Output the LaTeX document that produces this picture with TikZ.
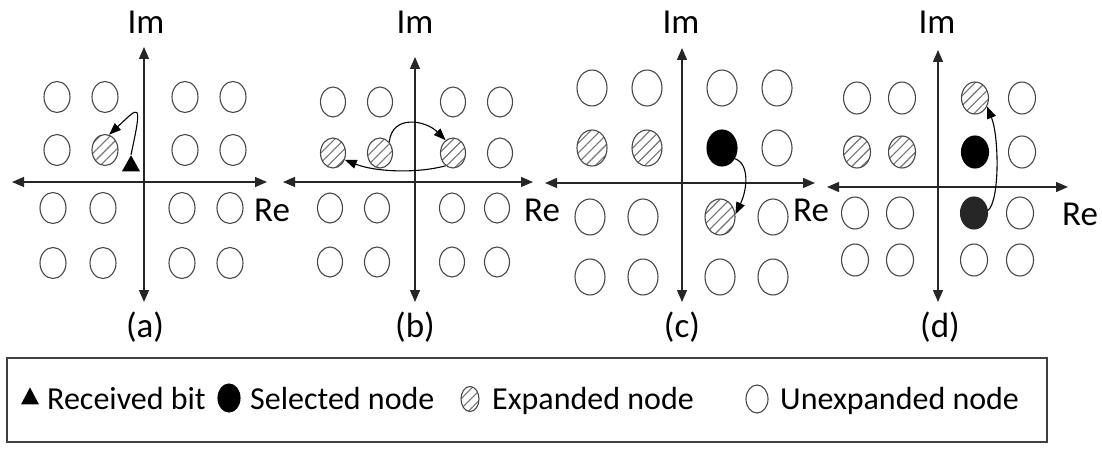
\documentclass[tikz,border=0pt]{standalone}
\usepackage{fontspec}
\setmainfont{Carlito}
\usetikzlibrary{shapes.geometric,arrows.meta,patterns.meta}
\begin{document}
\begin{tikzpicture}[x=1pt,y=-1pt,
  cbase/.style={ellipse,draw=black!72,line width=1.1pt,inner sep=0pt},
  unexp/.style={cbase},
  expd/.style={cbase,pattern={Lines[angle=45,distance=7pt,line width=1.1pt]},pattern color=black!55},
  selc/.style={cbase,fill=black,draw=black},
  dsel/.style={cbase,fill=black!85,draw=black!85},
  szab/.style={minimum width=26pt,minimum height=31pt},
  szc/.style={minimum width=30pt,minimum height=36pt},
  szd/.style={minimum width=27pt,minimum height=32pt},
  tri/.style={isosceles triangle,isosceles triangle stretches,shape border rotate=90,fill=black,inner sep=0pt},
  axisline/.style={line width=1.3pt,draw=black!85,arrows={Triangle[length=12pt,width=10pt]-Triangle[length=12pt,width=10pt]}},
  conn/.style={line width=1.1pt,draw=black,arrows={-Triangle[length=12pt,width=9pt]}},
  lbl/.style={font=\fontsize{35}{40}\selectfont,inner sep=0pt},
  leg/.style={font=\fontsize{32}{38}\selectfont,inner sep=0pt,anchor=base west}
]
\useasboundingbox (0,0) rectangle (1102,454);

% ---------- panel (a)
\coordinate (aT) at (144,47); \coordinate (aB) at (144,302);
\coordinate (aL) at (12,182); \coordinate (aR) at (267,182);
\draw[axisline] (aT) -- (aB);
\draw[axisline] (aL) -- (aR);
\foreach \n/\x/\y/\s in {a11/57/97/unexp,a12/105/97/unexp,a13/185/97/unexp,a14/233/97/unexp,
  a21/57/150/unexp,a22/105/150/expd,a23/185/150/unexp,a24/233/150/unexp,
  a31/53/208/unexp,a32/103/208/unexp,a33/182/208/unexp,a34/230/208/unexp,
  a41/53/263/unexp,a42/103/263/unexp,a43/182/263/unexp,a44/230/263/unexp}
  \node[\s,szab] (\n) at (\x,\y) {};
\node[tri,minimum width=18pt,minimum height=16pt] (atri) at (131,166) {};
\draw[conn] (atri.north) .. controls +(12,-55) and +(30,-28) .. (a22.75);
\node[lbl,anchor=base] (aIm) at (146,34) {Im};
\node[lbl,anchor=base west] (aRe) at (254,222) {Re};
\node[lbl,anchor=base] (acap) at (145,337) {(a)};

% ---------- panel (b)
\coordinate (bT) at (415,57); \coordinate (bB) at (415,302);
\coordinate (bL) at (283,182); \coordinate (bR) at (533,182);
\draw[axisline] (bT) -- (bB);
\draw[axisline] (bL) -- (bR);
\foreach \n/\x/\y/\s in {b11/333/102/unexp,b12/380/102/unexp,b13/453/102/unexp,b14/500/102/unexp,
  b21/333/153/expd,b22/380/153/expd,b23/453/153/expd,b24/500/153/unexp,
  b31/330/208/unexp,b32/377/208/unexp,b33/452/208/unexp,b34/497/208/unexp,
  b41/330/262/unexp,b42/377/262/unexp,b43/452/262/unexp,b44/497/262/unexp}
  \node[\s,minimum width=25pt,minimum height=30pt] (\n) at (\x,\y) {};
\draw[conn] (b22.50) .. controls +(3,-28) and +(-20,-20) .. (b23.120);
\draw[conn] (b23.240) .. controls +(-30,8) and +(30,12) .. (b21.-30);
\node[lbl,anchor=base] (bIm) at (415,34) {Im};
\node[lbl,anchor=base west] (bRe) at (524,222) {Re};
\node[lbl,anchor=base] (bcap) at (415,337) {(b)};

% ---------- panel (c)
\coordinate (cT) at (682,48); \coordinate (cB) at (682,302);
\coordinate (cL) at (545,183); \coordinate (cR) at (815,183);
\draw[axisline] (cT) -- (cB);
\draw[axisline] (cL) -- (cR);
\foreach \n/\x/\y/\s in {c11/592/88/unexp,c12/647/88/unexp,c13/722/88/unexp,c14/777/88/unexp,
  c21/592/148/expd,c22/647/148/expd,c23/722/148/selc,c24/777/148/unexp,
  c31/590/217/unexp,c32/643/217/unexp,c33/720/217/expd,c34/773/217/unexp,
  c41/590/277/unexp,c42/643/277/unexp,c43/720/277/unexp,c44/773/277/unexp}
  \node[\s,szc] (\n) at (\x,\y) {};
\draw[conn] (c23.-40) .. controls +(15,5) and +(12,-25) .. (c33.10);
\node[lbl,anchor=base] (cIm) at (681,34) {Im};
\node[lbl,anchor=base west] (cRe) at (793,222) {Re};
\node[lbl,anchor=base] (ccap) at (682,337) {(c)};

% ---------- panel (d)
\coordinate (dT) at (938,50); \coordinate (dB) at (938,302);
\coordinate (dL) at (827,187); \coordinate (dR) at (1068,187);
\draw[axisline] (dT) -- (dB);
\draw[axisline] (dL) -- (dR);
\foreach \n/\x/\y/\s in {d11/857/98/unexp,d12/902/98/unexp,d13/975/98/expd,d14/1022/98/unexp,
  d21/857/152/expd,d22/902/152/expd,d23/975/152/selc,d24/1022/152/unexp,
  d31/855/213/unexp,d32/900/213/unexp,d33/974/213/dsel,d34/1020/213/unexp,
  d41/855/260/unexp,d42/900/260/unexp,d43/974/260/unexp,d44/1020/260/unexp}
  \node[\s,szd] (\n) at (\x,\y) {};
\draw[conn] (d33.10) .. controls +(12,-10) and +(12,30) .. (d13.-35);
\node[lbl,anchor=base] (dIm) at (937,34) {Im};
\node[lbl,anchor=base west] (dRe) at (1062,226) {Re};
\node[lbl,anchor=base] (dcap) at (940,337) {(d)};

% ---------- legend
\node[draw=black!75,line width=1.1pt,minimum width=1040pt,minimum height=84pt,inner sep=0pt] (legbox) at (527,400) {};
\node[tri,minimum width=18pt,minimum height=17pt] (ltri) at (30,399) {};
\node[leg] (ltxt1) at (47,409) {Received bit};
\node[selc,minimum width=22pt,minimum height=28pt] (lsel) at (229,398) {};
\node[leg] (ltxt2) at (250,409) {Selected node};
\node[expd,minimum width=18pt,minimum height=25pt] (lexp) at (470,399) {};
\node[leg] (ltxt3) at (492,409) {Expanded node};
\node[unexp,minimum width=22pt,minimum height=28pt] (lunx) at (757,399) {};
\node[leg] (ltxt4) at (780,409) {Unexpanded node};
\end{tikzpicture}
\end{document}
